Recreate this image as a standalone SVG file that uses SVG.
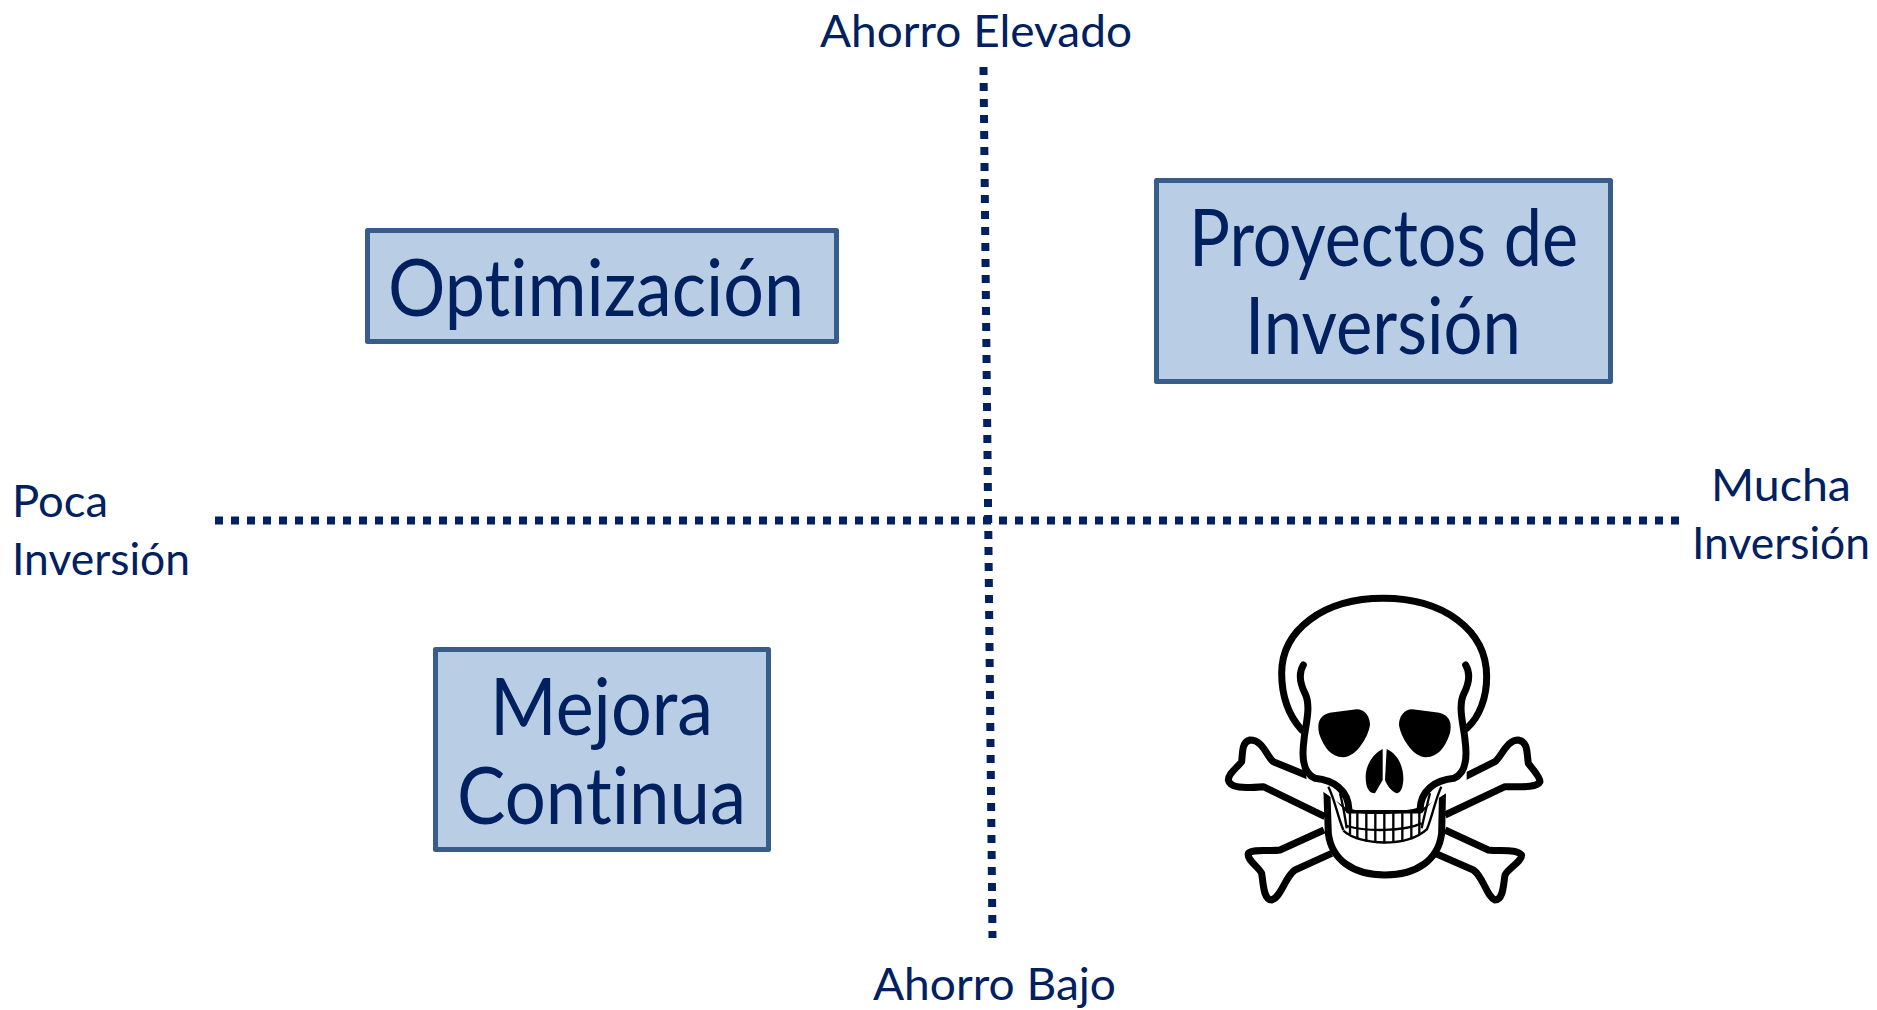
<svg xmlns="http://www.w3.org/2000/svg" width="1877" height="1010" viewBox="0 0 1877 1010">
<style>
text{font-family:"Lato","Liberation Sans",sans-serif;fill:#002060;font-variant-ligatures:none}
.s{font-size:45px}
.b{font-size:80px}
.box{fill:#B9CDE5;stroke:#385D8A;stroke-width:5;stroke-linejoin:round}
.axis{fill:none;stroke:#002060;stroke-width:8;stroke-dasharray:8 8}
.o{fill:none;stroke:#000;stroke-width:21;stroke-linecap:round;stroke-linejoin:round}
.bone{fill:#fff;stroke:#000;stroke-width:21;stroke-linejoin:round}
.t{fill:none;stroke:#000;stroke-width:7}
</style>
<rect width="1877" height="1010" fill="#fff"/>
<g id="connectors">
<line class="axis" x1="215" y1="520.500" x2="1680" y2="520.500"/>
<line class="axis" x1="983.500" y1="67" x2="992.500" y2="938"/>
</g>
<g id="label-ahorro-elevado"><text class="s" x="820" y="47" textLength="312" lengthAdjust="spacingAndGlyphs">Ahorro Elevado</text></g>
<g id="label-ahorro-bajo"><text class="s" x="873" y="1000" textLength="243" lengthAdjust="spacingAndGlyphs">Ahorro Bajo</text></g>
<g id="label-poca"><text class="s" x="12" y="517" textLength="96" lengthAdjust="spacingAndGlyphs">Poca</text><text class="s" x="12" y="575" textLength="178" lengthAdjust="spacingAndGlyphs">Inversión</text></g>
<g id="label-mucha"><text class="s" x="1711" y="501" textLength="140" lengthAdjust="spacingAndGlyphs">Mucha</text><text class="s" x="1692" y="559" textLength="178" lengthAdjust="spacingAndGlyphs">Inversión</text></g>
<g id="node-optimizacion"><rect class="box" x="367.500" y="230.500" width="469" height="111"/><text class="b" x="388" y="316" textLength="416" lengthAdjust="spacingAndGlyphs">Optimización</text></g>
<g id="node-proyectos"><rect class="box" x="1156.500" y="180.500" width="454" height="201"/><text class="b" x="1189" y="266" textLength="389" lengthAdjust="spacingAndGlyphs">Proyectos de</text><text class="b" x="1245" y="354" textLength="276" lengthAdjust="spacingAndGlyphs">Inversión</text></g>
<g id="node-mejora"><rect class="box" x="435.500" y="649.500" width="333" height="200"/><text class="b" x="490" y="735" textLength="223" lengthAdjust="spacingAndGlyphs">Mejora</text><text class="b" x="457" y="824" textLength="289" lengthAdjust="spacingAndGlyphs">Continua</text></g>
<g id="skull" transform="translate(1200 580) scale(.33333)">
<path class="bone" d="M330,590 L220,545 C200,530 190,480 150,480 C125,485 128,520 125,545 C110,565 85,580 85,600 C90,625 130,625 190,620 L375,710"/>
<path class="bone" d="M775,600 L885,545 C905,530 920,480 955,480 C985,485 980,520 985,550 C1000,570 1020,590 1020,605 C1010,625 960,620 915,620 L735,705"/>
<path class="bone" d="M372,750 L240,810 C210,815 160,805 145,820 C140,840 175,860 185,880 C190,910 190,960 215,960 C245,950 255,890 285,870 L395,820"/>
<path class="bone" d="M735,750 L865,810 C900,815 950,805 965,825 C965,845 925,865 915,885 C910,915 910,960 885,960 C860,950 850,890 820,870 L705,820"/>
<path d="M380,615 L385,760 C395,840 460,885 555,885 C650,885 715,840 725,760 L728,615 L660,690 L447,690Z" fill="#fff" stroke="#000" stroke-width="21" stroke-linejoin="round"/>
<path d="M305,450 C260,400 245,340 245,280 C245,150 370,55 550,55 C730,55 860,150 860,290 C860,350 840,410 800,445 L800,600 L660,690 L447,690 L320,600Z" fill="#fff"/>
<path class="o" d="M305,450 C260,400 245,340 245,280 C245,150 370,55 550,55 C730,55 860,150 860,290 C860,350 840,410 800,445"/>
<path class="o" d="M310,255 C295,280 300,310 315,340 C335,380 315,440 312,480 C305,530 310,580 345,595 C400,600 445,630 447,690"/>
<path class="o" d="M797,255 C812,280 807,310 792,340 C772,380 792,440 795,480 C802,530 797,580 762,595 C707,600 662,630 660,690"/>
<path class="t" d="M385,620 C405,660 410,700 430,750 M420,640 C430,680 435,710 440,745 M724,620 C705,660 700,700 680,750 M690,640 C680,680 672,710 665,745"/>
<path class="t" stroke-width="8" d="M447,690 C500,702 610,702 660,685 M440,738 C500,755 610,755 665,730 M430,752 C480,798 625,802 680,748"/>
<path class="t" d="M450,690V762 M472,695V778 M499,698V785 M526,698V788 M553,698V790 M580,698V788 M607,698V785 M634,694V778 M658,688V762"/>
<path d="M355,440 C355,415 370,400 400,397 L470,388 C495,388 510,410 510,435 C505,470 470,530 430,532 C390,530 375,500 365,480 C358,465 355,455 355,440Z"/>
<path d="M752,440 C752,415 737,400 707,397 L637,388 C612,388 597,410 597,435 C602,470 637,530 677,532 C717,530 732,500 742,480 C749,465 752,455 752,440Z"/>
<path d="M548,507 L548,600 L525,640 C505,640 497,620 497,590 C497,555 520,520 548,507Z"/>
<path d="M560,507 C590,520 610,555 610,595 C610,625 600,640 590,640 C575,635 560,615 555,600Z"/>
</g>
</svg>
